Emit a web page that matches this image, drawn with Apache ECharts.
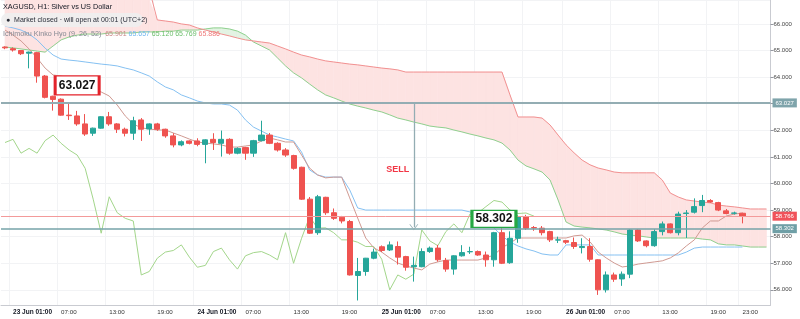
<!DOCTYPE html>
<html lang="en">
<head>
    <meta charset="UTF-8">
    <title>XAGUSD H1 Ichimoku</title>
    <script src="https://cdn.jsdelivr.net/npm/echarts@6.0.0/dist/echarts.min.js"></script>
    <style>
        html, body { margin: 0; padding: 0; background: #ffffff; }
        #chart { width: 800px; height: 319px; }
    </style>
</head>
<body>
<div id="chart"></div>
<script>
    // 时间轴：22 Jun 23:00 起，每天 01:00 - 23:00（00:00 休市），后面留 3 格给云层
    var days = ['23 Jun', '24 Jun', '25 Jun', '26 Jun'];
    var categories = ['22 Jun 23:00'];
    days.forEach(function (d) {
        for (var h = 1; h <= 23; h++) {
            categories.push(d + ' ' + (h < 10 ? '0' : '') + h + ':00');
        }
    });
    categories.push('27 Jun 01:00', '27 Jun 02:00', '27 Jun 03:00');
    var hourTicks = ['01:00', '07:00', '13:00', '19:00'];
    var lastBar = 92;

    // K线 [open, close, low, high]
    var candles = [
        [65.13, 65.10, 65.05, 65.16], [65.07, 65.02, 64.96, 65.12], [65.00, 64.88, 64.83, 65.02], [64.90, 64.94, 64.33, 64.96],
        [64.92, 64.04, 63.79, 64.95], [64.04, 63.24, 63.20, 64.08], [63.28, 63.16, 62.74, 63.30], [63.17, 62.57, 62.55, 63.20],
        [62.57, 62.55, 62.39, 63.00], [62.54, 62.24, 62.17, 62.73], [62.24, 61.86, 61.79, 62.61], [61.89, 62.08, 61.79, 62.10],
        [62.08, 62.51, 62.06, 62.53], [62.51, 62.24, 62.17, 62.69], [62.24, 62.04, 61.90, 62.27], [62.04, 61.89, 61.77, 62.10],
        [61.89, 62.36, 61.64, 62.51], [62.39, 62.04, 61.60, 62.46], [62.05, 62.24, 61.83, 62.26], [62.24, 62.04, 61.98, 62.28],
        [62.04, 61.79, 61.72, 62.06], [61.79, 61.45, 61.36, 61.89], [61.45, 61.57, 61.40, 61.62], [61.60, 61.51, 61.47, 61.62],
        [61.60, 61.47, 61.40, 61.70], [61.47, 61.64, 60.76, 61.66], [61.66, 61.54, 61.26, 61.89], [61.51, 61.66, 61.01, 61.99],
        [61.66, 61.14, 61.08, 61.70], [61.14, 61.32, 61.10, 61.36], [61.35, 61.14, 60.89, 61.38], [61.14, 61.61, 61.00, 61.64],
        [61.61, 61.82, 61.58, 62.36], [61.82, 61.51, 61.48, 61.90], [61.51, 61.26, 61.20, 61.55], [61.26, 61.07, 61.00, 61.33],
        [61.05, 60.57, 60.52, 61.08], [60.61, 59.41, 59.38, 60.63], [59.41, 58.13, 58.10, 59.49], [58.15, 59.50, 58.07, 59.57],
        [59.48, 58.90, 58.82, 59.50], [58.90, 58.69, 58.63, 59.06], [58.73, 58.59, 58.50, 58.78], [58.57, 56.56, 56.54, 58.63],
        [56.54, 56.69, 55.60, 57.20], [56.69, 57.19, 56.53, 57.20], [57.19, 57.42, 57.15, 57.55], [57.62, 57.48, 57.42, 57.67],
        [57.50, 57.69, 57.46, 57.82], [57.63, 57.23, 56.95, 57.82], [57.25, 56.85, 56.72, 57.28], [56.87, 56.92, 56.31, 57.25],
        [56.87, 57.44, 56.85, 57.56], [57.44, 57.57, 57.39, 57.63], [57.57, 57.13, 57.06, 57.69], [57.10, 56.78, 56.68, 57.20],
        [56.78, 57.28, 56.57, 57.30], [57.28, 57.40, 57.25, 57.68], [57.43, 57.44, 57.35, 57.62], [57.44, 57.31, 57.28, 57.48],
        [57.31, 57.13, 56.87, 57.44], [57.13, 58.15, 56.87, 58.18], [58.15, 57.00, 56.97, 58.50], [57.02, 57.94, 56.98, 58.20],
        [57.94, 58.75, 57.77, 58.80], [58.75, 58.32, 58.25, 58.82], [58.34, 58.33, 58.22, 58.40], [58.32, 58.15, 58.05, 58.40],
        [58.19, 57.88, 57.80, 58.22], [57.87, 57.88, 57.76, 58.00], [57.85, 57.79, 57.72, 57.88], [57.78, 57.63, 57.54, 57.97],
        [57.59, 57.63, 57.37, 57.94], [57.63, 57.15, 57.06, 57.94], [57.13, 56.00, 55.81, 57.15], [56.00, 56.56, 55.90, 56.69],
        [56.56, 56.40, 56.30, 56.65], [56.41, 56.59, 56.15, 56.69], [56.59, 58.25, 56.44, 58.28], [58.25, 57.84, 57.80, 58.28],
        [57.84, 57.66, 57.60, 57.86], [57.66, 58.19, 57.62, 58.28], [58.19, 58.48, 58.05, 58.57], [58.48, 58.15, 58.12, 58.50],
        [58.15, 58.85, 58.05, 58.94], [58.87, 58.89, 57.95, 59.00], [58.92, 59.13, 58.87, 59.44], [59.17, 59.36, 58.92, 59.57],
        [59.36, 59.30, 59.27, 59.41], [59.28, 59.00, 58.96, 59.31], [58.97, 58.87, 58.84, 59.04], [58.88, 58.89, 58.83, 58.94],
        [58.88, 58.77, 58.50, 58.90]
    ];

    // 转换线 (9)
    var tenkan = [
        65.77, 65.58, 65.36, 65.06, 64.72, 64.34, 64.08, 64.04, 63.97, 63.82,
        63.67, 63.55, 63.44, 63.29, 62.95, 62.54, 62.24, 62.09, 62.05, 62.01,
        62.01, 61.90, 61.79, 61.67, 61.56, 61.52, 61.49, 61.45, 61.37, 61.37,
        61.41, 61.45, 61.60, 61.71, 61.64, 61.56, 61.56, 61.07, 60.58, 60.32,
        60.21, 60.24, 60.24, 59.46, 58.70, 57.95, 57.58, 57.42, 57.20, 57.01,
        56.90, 56.82, 56.75, 56.97, 57.05, 57.12, 57.12, 57.12, 57.12, 57.12,
        57.20, 57.31, 57.58, 57.76, 57.95, 57.95, 57.95, 57.95, 57.95, 57.95,
        57.95, 58.03, 58.06, 57.80, 57.42, 57.20, 57.01, 56.86, 56.90, 56.97,
        57.01, 57.05, 57.09, 57.20, 57.39, 57.65, 57.88, 58.33, 58.59, 58.59,
        58.78, 58.85, 58.89
    ];

    // 基准线 (26)
    var kijun = [
        65.92, 65.85, 65.77, 65.62, 65.40, 65.09, 64.83, 64.68, 64.64, 64.61,
        64.57, 64.53, 64.49, 64.46, 64.42, 64.34, 64.27, 64.16, 64.04, 63.82,
        63.63, 63.52, 63.33, 63.22, 63.10, 63.03, 62.99, 62.99, 62.95, 62.76,
        62.39, 62.12, 61.97, 61.82, 61.75, 61.67, 61.60, 61.18, 60.51, 60.32,
        60.24, 60.24, 60.24, 59.76, 59.08, 59.00, 59.00, 59.00, 59.00, 59.00,
        59.00, 59.00, 59.00, 59.00, 59.00, 59.00, 59.00, 59.00, 58.93, 58.74,
        58.55, 58.33, 58.03, 57.80, 57.65, 57.54, 57.46, 57.35, 57.31, 57.31,
        57.69, 57.69, 57.69, 57.69, 57.31, 57.31, 57.31, 57.31, 57.31, 57.31,
        57.31, 57.31, 57.31, 57.31, 57.31, 57.42, 57.57, 57.61, 57.61, 57.61,
        57.61, 57.61, 57.61
    ];

    // 迟行带
    var chikou = [
        61.54, 61.66, 61.14, 61.32, 61.14, 61.61, 61.82, 61.51, 61.26, 61.07,
        60.57, 59.41, 58.13, 59.50, 58.90, 58.69, 58.59, 56.56, 56.69, 57.19,
        57.42, 57.48, 57.69, 57.23, 56.85, 56.92, 57.44, 57.57, 57.13, 56.78,
        57.28, 57.40, 57.44, 57.31, 57.13, 58.15, 57.00, 57.94, 58.75, 58.32,
        58.33, 58.15, 57.88, 57.88, 57.79, 57.63, 57.63, 57.15, 56.00, 56.56,
        56.40, 56.59, 58.25, 57.84, 57.66, 58.19, 58.48, 58.15, 58.85, 58.89,
        59.13, 59.36, 59.30, 59.00, 58.87, 58.89, 58.77
    ];

    // 先行带 A
    var spanA = [
        65.13, 65.10, 65.06, 65.02, 64.98, 64.94, 65.17, 65.40, 65.51, 65.58,
        65.62, 65.62, 65.62, 65.66, 65.66, 65.66, 65.66, 65.70, 65.70, 65.70,
        65.73, 65.73, 65.77, 65.77, 65.77, 65.81, 65.85, 65.85, 65.81, 65.73,
        65.58, 65.32, 65.17, 65.02, 64.72, 64.42, 64.16, 63.97, 63.74, 63.52,
        63.33, 63.22, 63.10, 62.99, 62.91, 62.84, 62.76, 62.69, 62.58, 62.46,
        62.39, 62.31, 62.24, 62.16, 62.12, 62.09, 62.01, 61.94, 61.86, 61.79,
        61.71, 61.64, 61.52, 61.26, 60.88, 60.66, 60.55, 60.43, 60.13, 59.38,
        58.55, 58.40, 58.36, 58.33, 58.29, 58.25, 58.18, 58.10, 58.06, 58.03,
        57.99, 57.95, 57.95, 57.95, 57.95, 57.95, 57.95, 57.91, 57.88, 57.73,
        57.69, 57.69, 57.65, 57.61, 57.61, 57.61
    ];

    // 先行带 B
    var spanB = [
        67.30, 67.30, 67.30, 67.30, 67.30, 67.30, 67.30, 67.30, 67.30, 67.30,
        67.30, 67.30, 67.30, 67.30, 67.30, 67.30, 67.30, 67.30, 67.30,
        66.15, 66.11, 66.07, 66.00, 65.96, 65.85, 65.77, 65.70, 65.62, 65.55,
        65.47, 65.40, 65.36, 65.32, 65.28, 65.17, 65.06, 64.94, 64.83, 64.76,
        64.68, 64.61, 64.57, 64.53, 64.49, 64.46, 64.42, 64.38, 64.34, 64.31,
        64.27, 64.19, 64.19, 64.19, 64.19, 64.19, 64.19, 64.19, 64.19, 64.19,
        64.19, 64.19, 64.19, 64.19,
        63.33, 62.50, 62.50, 62.50, 62.46, 62.20, 61.82, 61.45, 61.15, 60.88,
        60.70, 60.58, 60.51, 60.43, 60.40, 60.40, 60.40, 60.40, 60.40, 60.13,
        59.64, 59.49, 59.38, 59.34, 59.30, 59.27, 59.19, 59.15, 59.12, 59.08,
        59.04, 59.04, 59.04
    ];

    var levels = { entry: 63.027, target: 58.302, last: 58.766 };

    var chart = echarts.init(document.getElementById('chart'), null, { renderer: 'canvas' });

    function showTick(index, value) {
        if (index > lastBar) return false;
        if (index === lastBar) return true;
        return hourTicks.indexOf(String(value).slice(-5)) >= 0;
    }

    // 云层颜色（不透明，避免分段重叠的缝）
    var cloudPink = '#fde3e2';
    var cloudGreen = '#e3f3e3';

    // 云层：逐段画 A/B 之间的多边形
    function renderCloud(params, api) {
        var i = params.dataIndex;
        if (i >= spanA.length - 1) return;
        var rect = params.coordSys;
        var a0 = api.coord([i, spanA[i]]), b0 = api.coord([i, spanB[i]]);
        var a1 = api.coord([i + 1, spanA[i + 1]]), b1 = api.coord([i + 1, spanB[i + 1]]);
        var d0 = spanA[i] - spanB[i], d1 = spanA[i + 1] - spanB[i + 1];
        var children = [];
        function poly(pts, up) {
            var c = up ? cloudGreen : cloudPink;
            children.push({
                type: 'polygon',
                shape: { points: echarts.graphic.clipPointsByRect(pts, rect) },
                style: { fill: c, stroke: c, lineWidth: 0.6 }
            });
        }
        if (d0 * d1 < 0) {
            var t = d0 / (d0 - d1);
            var pc = [a0[0] + (a1[0] - a0[0]) * t, a0[1] + (a1[1] - a0[1]) * t];
            poly([a0, pc, b0], d0 > 0);
            poly([pc, a1, b1], d1 > 0);
        } else {
            poly([a0, a1, b1, b0], (d0 !== 0 ? d0 : d1) > 0);
        }
        return { type: 'group', children: children };
    }

    var labelFont = 'Liberation Sans';

    var option = {
        animation: false,
        backgroundColor: '#ffffff',
        textStyle: { fontFamily: labelFont },
        grid: { left: 1, top: 0, width: 769.5, height: 305, containLabel: false, outerBoundsMode: 'none' },
        xAxis: {
            type: 'category',
            data: categories,
            boundaryGap: true,
            axisLine: { lineStyle: { color: '#c9cbd1' } },
            axisTick: { interval: showTick, alignWithLabel: true, length: 3, lineStyle: { color: '#9598a1' } },
            axisLabel: {
                interval: showTick,
                fontSize: 6.2,
                color: '#333333',
                margin: 4,
                align: 'left',
                formatter: function (value) {
                    var h = value.slice(-5);
                    return h === '01:00' ? '{b|' + value + '}' : h;
                },
                rich: { b: { fontWeight: 'bold', fontSize: 6.5, color: '#131722' } }
            },
            splitLine: { show: true, interval: showTick, lineStyle: { color: '#f2f3f5' } }
        },
        yAxis: {
            type: 'value',
            position: 'right',
            min: 55.43,
            max: 66.90,
            splitNumber: 11,
            axisLine: { show: true, lineStyle: { color: '#c9cbd1' } },
            axisTick: { show: true, length: 3, lineStyle: { color: '#9598a1' } },
            axisLabel: {
                fontSize: 6,
                color: '#444444',
                margin: 3,
                showMinLabel: false,
                showMaxLabel: false,
                formatter: function (v) {
                    return Math.abs(v - Math.round(v)) < 1e-6 ? v.toFixed(3) : '';
                }
            },
            splitLine: { lineStyle: { color: '#f2f3f5' } }
        },
        graphic: [
            {
                type: 'text', left: 3, top: 3, z: 100,
                style: { text: 'XAGUSD, H1: Silver vs US Dollar', font: '7.3px "Liberation Sans"', fill: '#131722' }
            },
            {
                type: 'rect', left: 1, top: 13, z: 99,
                shape: { width: 142, height: 14, r: 7 },
                style: { fill: 'rgba(238, 238, 240, 0.9)' }
            },
            {
                type: 'text', left: 6, top: 16.5, z: 100,
                style: { text: '\u25CF  Market closed \u00B7 will open at 00:01 (UTC+2)', font: '7px "Liberation Sans"', fill: '#2a2e39' }
            },
            {
                type: 'text', left: 3, top: 31, z: 100,
                style: {
                    text: '{n|Ichimoku Kinko Hyo (9, 26, 52)}  {r|65.901} {b|65.657} {g|65.120} {g|65.769} {p|65.886}',
                    font: '7px "Liberation Sans"',
                    rich: {
                        n: { fill: '#868993', fontSize: 7.2 },
                        r: { fill: '#c98585', fontSize: 7 },
                        b: { fill: '#6fb7f0', fontSize: 7 },
                        g: { fill: '#6cbf6c', fontSize: 7 },
                        p: { fill: '#ef7b7b', fontSize: 7 }
                    }
                }
            }
        ],
        series: [
            {
                name: 'Cloud',
                type: 'custom',
                data: spanA.map(function (a, i) { return [i, a, spanB[i]]; }),
                renderItem: renderCloud,
                encode: { x: 0, y: [1, 2] },
                clip: true,
                silent: true,
                z: 1
            },
            {
                name: 'Lead 1',
                type: 'line',
                data: spanA,
                symbol: 'none',
                lineStyle: { color: '#8fd18f', width: 1 },
                silent: true,
                z: 2
            },
            {
                name: 'Lead 2',
                type: 'line',
                data: spanB,
                symbol: 'none',
                lineStyle: { color: '#f19191', width: 1 },
                silent: true,
                z: 2
            },
            {
                name: 'Lagging Span',
                type: 'line',
                data: chikou,
                symbol: 'none',
                lineStyle: { color: '#a3d68b', width: 1 },
                silent: true,
                z: 2
            },
            {
                name: 'Base Line',
                type: 'line',
                data: kijun,
                symbol: 'none',
                lineStyle: { color: '#85c1f2', width: 1 },
                silent: true,
                z: 2
            },
            {
                name: 'Conversion Line',
                type: 'line',
                data: tenkan,
                symbol: 'none',
                lineStyle: { color: '#d09a92', width: 1 },
                silent: true,
                z: 2
            },
            {
                name: 'XAGUSD',
                type: 'candlestick',
                data: candles,
                barWidth: '70%',
                z: 3,
                itemStyle: {
                    color: '#26a69a',
                    color0: '#ef5350',
                    borderColor: '#26a69a',
                    borderColor0: '#ef5350',
                    borderWidth: 1
                },
                markLine: {
                    silent: true,
                    animation: false,
                    symbol: ['none', 'none'],
                    label: {
                        show: true,
                        position: 'end',
                        distance: 2,
                        color: '#ffffff',
                        fontSize: 6,
                        padding: [2, 3, 1, 3]
                    },
                    data: [
                        {
                            yAxis: levels.entry,
                            lineStyle: { color: '#93adb3', width: 2, type: 'solid' },
                            label: { formatter: '63.027', backgroundColor: '#7fa4ab' }
                        },
                        {
                            yAxis: levels.last,
                            lineStyle: { color: '#f39a9a', width: 1, type: 'solid' },
                            label: { formatter: '58.766', backgroundColor: '#f0525a' }
                        },
                        {
                            yAxis: levels.target,
                            lineStyle: { color: '#76a3a9', width: 1.6, type: 'solid' },
                            label: { formatter: '58.302', backgroundColor: '#6f9fa6' }
                        },
                        [
                            { coord: [51, levels.entry], symbol: 'none' },
                            {
                                coord: [51, levels.target + 0.05],
                                symbol: 'path://M0,10 L5,0 L10,10 L9,10 L5,2 L1,10 Z',
                                symbolSize: [9, 6],
                                lineStyle: { color: '#93adb3', width: 1.3, type: 'solid' },
                                label: { show: false }
                            }
                        ]
                    ]
                },
                markPoint: {
                    silent: true,
                    animation: false,
                    data: [
                        {
                            coord: [9, 63.69],
                            symbol: 'rect',
                            symbolSize: [44, 19],
                            itemStyle: { color: '#ffffff', borderColor: '#e3232b', borderWidth: 2 },
                            label: { show: true, position: 'inside', formatter: '63.027', color: '#111111', fontWeight: 'bold', fontSize: 12, fontFamily: labelFont }
                        },
                        {
                            coord: [61, 58.67],
                            symbol: 'rect',
                            symbolSize: [44, 17],
                            itemStyle: { color: '#ffffff', borderColor: '#25a843', borderWidth: 2 },
                            label: { show: true, position: 'inside', formatter: '58.302', color: '#111111', fontWeight: 'bold', fontSize: 12, fontFamily: labelFont }
                        },
                        {
                            coord: [49, 60.51],
                            symbol: 'rect',
                            symbolSize: [1, 1],
                            itemStyle: { color: 'rgba(0,0,0,0)' },
                            label: { show: true, position: 'inside', formatter: 'SELL', color: '#f23645', fontWeight: 'bold', fontSize: 9, fontFamily: labelFont }
                        }
                    ]
                }
            }
        ]
    };

    chart.setOption(option);
</script>
</body>
</html>
